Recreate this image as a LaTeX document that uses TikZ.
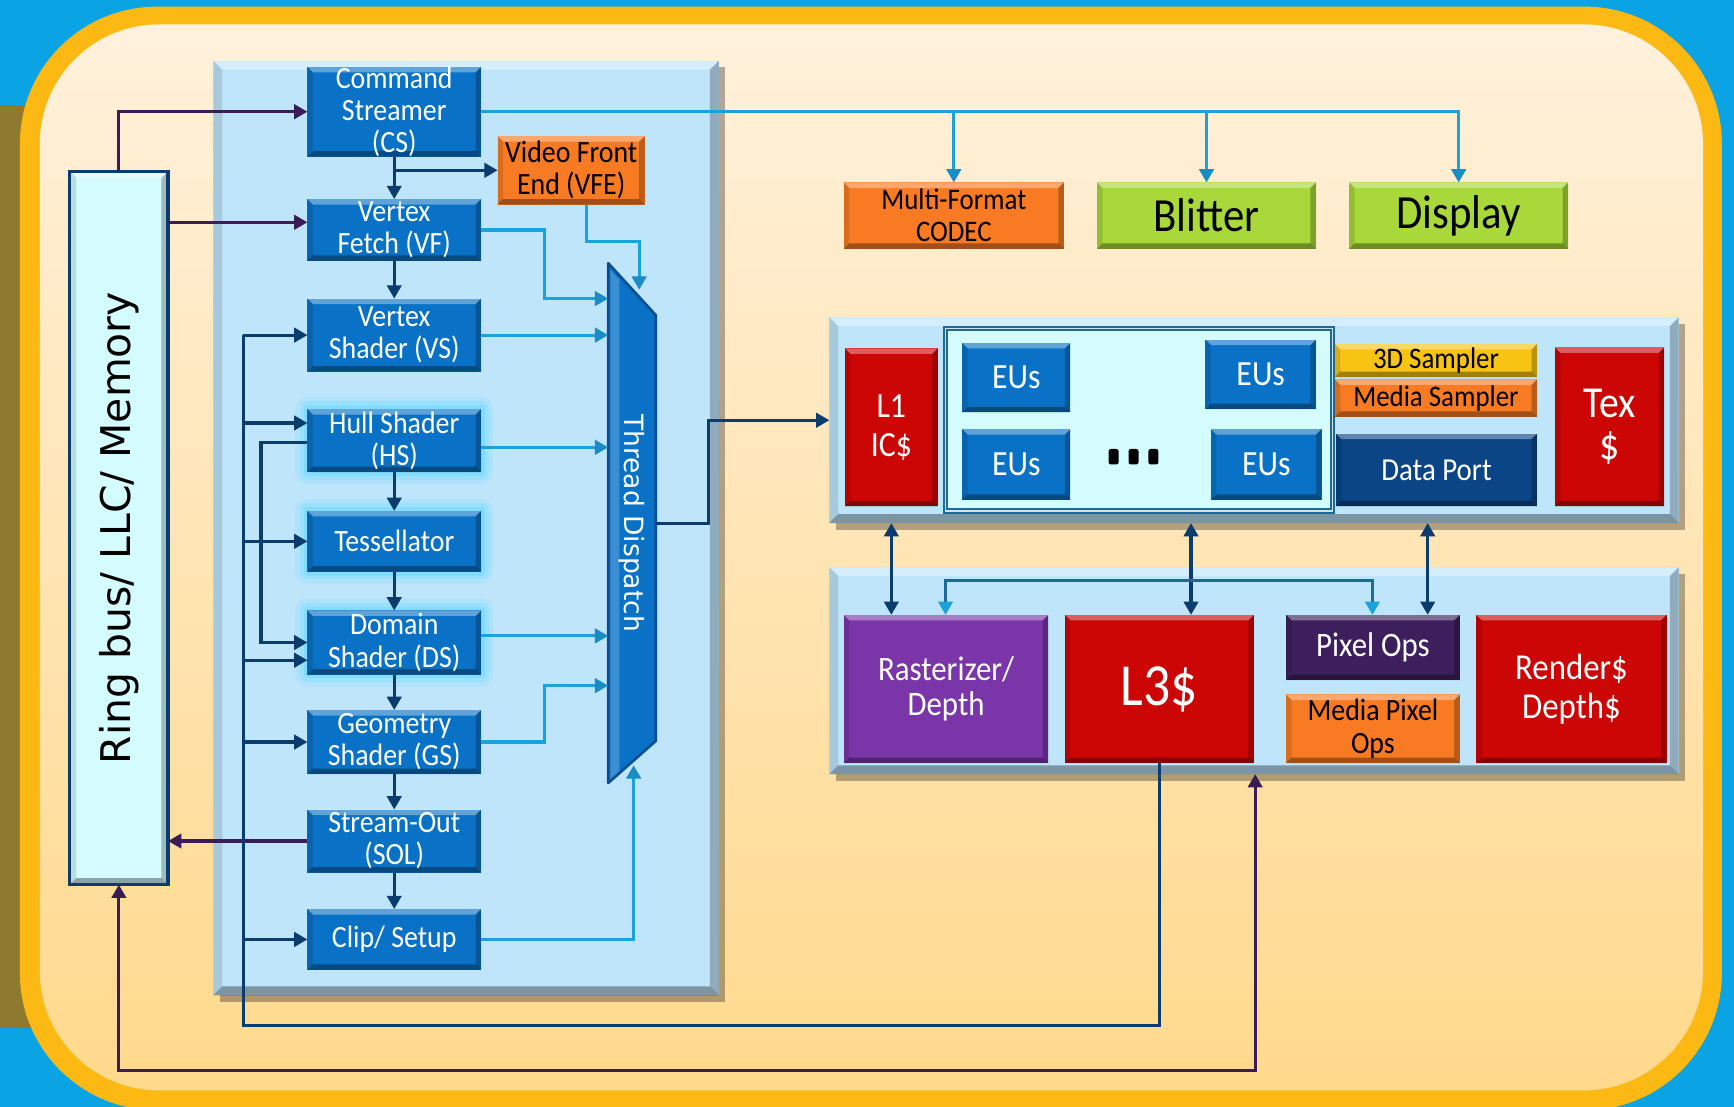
\documentclass[tikz,border=0pt]{standalone}
\usepackage{graphicx}
\usepackage{fontspec}
\setmainfont{Carlito}[FakeStretch=0.9]
\newfontfamily\dvfont{DejaVu Sans}
\usetikzlibrary{arrows.meta,shadows,calc}

\definecolor{outerblue}{HTML}{0AA3E4}
\definecolor{frameY}{HTML}{FDB913}
\definecolor{creamT}{HTML}{FFF1DC}
\definecolor{creamB}{HTML}{FFD98C}
\definecolor{panelC}{HTML}{BFE5FB}
\definecolor{boxB}{HTML}{0A72C6}
\definecolor{redC}{HTML}{CC0505}
\definecolor{orangeC}{HTML}{F87A22}
\definecolor{greenC}{HTML}{A8D83A}
\definecolor{goldC}{HTML}{F8C414}
\definecolor{purpC}{HTML}{7A36A8}
\definecolor{dpurpC}{HTML}{3C1F5C}
\definecolor{dportC}{HTML}{0B4585}
\definecolor{cyanL}{HTML}{D4FCFF}
\definecolor{navyL}{HTML}{0B3C6E}
\definecolor{purpL}{HTML}{3A1C56}
\definecolor{lbL}{HTML}{1BA1DB}
\definecolor{lbH}{HTML}{1A8CC4}
\definecolor{glowC}{HTML}{5FD8FF}
\definecolor{tealE}{HTML}{1E6A96}
\definecolor{oliveC}{HTML}{8E7A2E}
\definecolor{tdEdge}{HTML}{0A4F96}

\newcommand\fS{\fontsize{14}{14.5}\selectfont}
\newcommand\fSm{\fontsize{13.5}{14.5}\selectfont}
\newcommand\fM{\fontsize{16}{17.5}\selectfont}
\newcommand\fL{\fontsize{21.5}{23}\selectfont}
\newcommand\fT{\fontsize{20}{19}\selectfont}
\newcommand\fX{\fontsize{27}{28}\selectfont}

\newcommand\mybox[7]{\node[#6, minimum width={(#4-#2)*0.5pt}, minimum height={(#5-#3)*0.5pt}] (#1) at ({(#2+#4)/2},{(#3+#5)/2}) {#7};}

\tikzset{
 bevel/.style={path picture={
  \fill[white,opacity=.35] (path picture bounding box.north west) -- (path picture bounding box.north east) -- ([shift={(-#1,-#1)}]path picture bounding box.north east) -- ([shift={(#1,-#1)}]path picture bounding box.north west) -- cycle;
  \fill[black,opacity=.35] (path picture bounding box.south west) -- (path picture bounding box.south east) -- ([shift={(-#1,#1)}]path picture bounding box.south east) -- ([shift={(#1,#1)}]path picture bounding box.south west) -- cycle;
  \fill[black,opacity=.12] (path picture bounding box.north west) -- ([shift={(#1,-#1)}]path picture bounding box.north west) -- ([shift={(#1,#1)}]path picture bounding box.south west) -- (path picture bounding box.south west) -- cycle;
  \fill[black,opacity=.25] (path picture bounding box.north east) -- ([shift={(-#1,-#1)}]path picture bounding box.north east) -- ([shift={(-#1,#1)}]path picture bounding box.south east) -- (path picture bounding box.south east) -- cycle;
 }},
 blk/.style={fill=#1, bevel=2.5pt, inner sep=0pt, outer sep=0pt, align=center, text=white},
 glowing/.style={preaction={draw=glowC, line width=11pt, opacity=.15, line join=round},
                 preaction={draw=glowC, line width=7pt, opacity=.25, line join=round},
                 preaction={draw=glowC, line width=3.5pt, opacity=.4, line join=round}},
 panel/.style={fill=panelC, bevel=4pt, inner sep=0pt, outer sep=0pt,
               drop shadow={shadow xshift=3pt, shadow yshift=-3pt, opacity=.3, fill=black}},
 ringbox/.style={fill=cyanL, draw=navyL, line width=1.5pt, bevel=3pt, inner sep=0pt, outer sep=0pt,
               text=black, font=\dvfont\fontsize{18.5}{20}\selectfont},
 euframe/.style={fill=cyanL, draw=tealE, line width=2.5pt, inner sep=0pt, outer sep=0pt,
               postaction={draw=white, line width=0.8pt, opacity=.8}},
 >={Triangle[length=6pt,width=6.5pt]},
 nvl/.style={draw=navyL, line width=1.4pt},
 pul/.style={draw=purpL, line width=1.4pt},
 lbl/.style={draw=lbL, line width=1.4pt, >={Triangle[length=6pt,width=6.5pt,color=lbH]}},
}

\begin{document}
\begin{tikzpicture}[x=0.5pt,y=-0.5pt]
\useasboundingbox (0,0) rectangle (1568,1001);
% background
\fill[outerblue] (0,0) rectangle (1568,1001);
\fill[oliveC] (0,95) rectangle (30,930);
\fill[frameY, rounded corners=62pt] (18,6) rectangle (1557,1004);
\shade[top color=creamT, bottom color=creamB, rounded corners=54pt] (36,22) rectangle (1540,986);

% pipeline panel
\mybox{PP}{193}{55}{650}{900}{panel}{}

% ring bus
\mybox{RB}{63}{155}{152}{800}{ringbox}{\rotatebox{90}{Ring bus/ LLC/ Memory}}

% pipeline stages
\mybox{CS}{278}{66}{435}{136}{blk=boxB,font=\fS}{Command\\Streamer\\(CS)}
\mybox{VF}{278}{180}{435}{236}{blk=boxB,font=\fS}{Vertex\\Fetch (VF)}
\mybox{VS}{278}{270}{435}{336}{blk=boxB,font=\fS}{Vertex\\Shader (VS)}
\mybox{HS}{278}{370}{435}{427}{blk=boxB,glowing,font=\fS}{Hull Shader\\(HS)}
\mybox{Tess}{278}{462}{435}{517}{blk=boxB,glowing,font=\fS}{Tessellator}
\mybox{DS}{278}{552}{435}{610}{blk=boxB,glowing,font=\fS}{Domain\\Shader (DS)}
\mybox{GS}{278}{642}{435}{700}{blk=boxB,font=\fS}{Geometry\\Shader (GS)}
\mybox{SOL}{278}{732}{435}{789}{blk=boxB,font=\fS}{Stream-Out\\(SOL)}
\mybox{Clip}{278}{822}{435}{877}{blk=boxB,font=\fS}{Clip/ Setup}
\mybox{VFE}{450}{123}{583}{185}{blk=orangeC,text=black,font=\fS}{Video Front\\End (VFE)}

% thread dispatch
\fill[boxB] (550,238) -- (593,285) -- (593,670) -- (550,708) -- cycle;
\fill[white,opacity=.2] (552,244) -- (560,253) -- (560,700) -- (552,705) -- cycle;
\draw[tdEdge, line width=1.2pt, line join=round] (550,238) -- (593,285) -- (593,670) -- (550,708) -- cycle;
\node[inner sep=0pt, outer sep=0pt, minimum width=21.5pt, minimum height=235pt, text=white,
      font=\dvfont\fontsize{12}{13}\selectfont] (TD) at (571.5,473) {\rotatebox{-90}{Thread Dispatch}};
\coordinate (tdtop) at (578,262);
\coordinate (tdbot) at (573,692);

% top units
\mybox{MFC}{763}{165}{962}{225}{blk=orangeC,text=black,font=\fSm}{Multi-Format\\CODEC}
\mybox{Blit}{992}{165}{1190}{225}{blk=greenC,text=black,font=\fL}{Blitter}
\mybox{Disp}{1220}{165}{1418}{225}{blk=greenC,text=black,font=\fL}{Display}

% execution panel
\mybox{EX}{750}{287}{1518}{473}{panel}{}
\mybox{L1}{764}{315}{848}{458}{blk=redC,font=\fM}{L1\\IC\$}
\mybox{EUF}{855}{297}{1205}{462}{euframe}{}
\mybox{EUa}{870}{310}{968}{373}{blk=boxB,font=\fM}{EUs}
\mybox{EUb}{1090}{307}{1190}{370}{blk=boxB,font=\fM}{EUs}
\mybox{EUc}{870}{388}{968}{452}{blk=boxB,font=\fM}{EUs}
\mybox{EUd}{1095}{388}{1195}{452}{blk=boxB,font=\fM}{EUs}
\foreach \x in {1007,1025,1043} \fill[black, rounded corners=1pt] (\x-4.5,406) rectangle (\x+4.5,420);
\mybox{S3D}{1207}{311}{1390}{341}{blk=goldC,text=black,font=\fSm}{3D Sampler}
\mybox{MS}{1207}{343}{1390}{377}{blk=orangeC,text=black,font=\fSm}{Media Sampler}
\mybox{DP}{1208}{392}{1390}{458}{blk=dportC,font=\fontsize{14.5}{15}\selectfont}{Data Port}
\mybox{Tex}{1406}{314}{1505}{458}{blk=redC,font=\fT}{Tex\\\$}

% lower panel
\mybox{LP}{750}{513}{1518}{700}{panel}{}
\mybox{Rast}{763}{556}{948}{690}{blk=purpC,font=\fontsize{15.5}{16}\selectfont}{Rasterizer/\\Depth}
\mybox{L3}{963}{556}{1134}{690}{blk=redC,font=\fX}{L3\$}
\mybox{PixOps}{1163}{556}{1320}{615}{blk=dpurpC,font=\fontsize{15.5}{16}\selectfont}{Pixel Ops}
\mybox{MPO}{1163}{628}{1320}{690}{blk=orangeC,text=black,font=\fontsize{14}{14.5}\selectfont}{Media Pixel\\Ops}
\mybox{Rend}{1335}{556}{1507}{690}{blk=redC,font=\fontsize{16.5}{17.5}\selectfont}{Render\$\\Depth\$}

% ---- connectors ----
% ring bus
\coordinate (vfin) at ([yshift=3.5pt]VF.west);
\draw[pul,->] (RB.north) |- (CS.west);
\draw[pul,->] (RB.east |- vfin) -- (vfin);
\draw[pul,->] (SOL.west) -- (RB.east |- SOL.west);
\draw[pul,<->] (RB.south) -- (RB.south |- 0,968) -| (LP.south -| 1135,0);

% command streamer fan-out
\draw[lbl,->] (CS.east) -| (Disp.north);
\draw[lbl,->] (MFC.north |- CS.east) -- (MFC.north);
\draw[lbl,->] (Blit.north |- CS.east) -- (Blit.north);

% pipeline chain
\draw[nvl,->] (CS.south) -- (VF.north);
\draw[nvl,->] (CS.south |- VFE.west) -- (VFE.west);
\draw[nvl,->] (VF.south) -- (VS.north);
\draw[nvl,->] (HS.south) -- (Tess.north);
\draw[nvl,->] (Tess.south) -- (DS.north);
\draw[nvl,->] (DS.south) -- (GS.north);
\draw[nvl,->] (GS.south) -- (SOL.north);
\draw[nvl,->] (SOL.south) -- (Clip.north);

% into thread dispatch
\coordinate (hsr) at ([yshift=-3pt]HS.east);
\coordinate (dsr) at ([yshift=3pt]DS.east);
\draw[lbl,->] (VF.east) -| (492,270) -- (TD.west |- 0,270);
\draw[lbl,->] (VS.east) -- (TD.west |- VS.east);
\draw[lbl,->] (hsr) -- (TD.west |- hsr);
\draw[lbl,->] (dsr) -- (TD.west |- dsr);
\draw[lbl,->] (GS.east) -| (492,620) -- (TD.west |- 0,620);
\draw[lbl,->] (Clip.east) -| (tdbot);
\draw[lbl,->] ([xshift=7pt]VFE.south) |- (578,218) -- (tdtop);

% thread dispatch to execution
\draw[nvl,->] (TD.east) -- (641,473) |- (EX.west);

% L3 bus back into the pipeline
\coordinate (lb) at (220,927);
\coordinate (hsin) at ([yshift=8pt]HS.west);
\coordinate (dsin) at ([yshift=-8pt]DS.west);
\coordinate (hsout) at ([yshift=-0.75pt]HS.west);
\draw[nvl] (L3.south) |- (lb) -- (lb |- VS.west);
\draw[nvl,->] (lb |- VS.west) -- (VS.west);
\draw[nvl,->] (lb |- hsin) -- (hsin);
\draw[nvl,->] (lb |- Tess.west) -- (Tess.west);
\draw[nvl,->] (lb |- dsin) -- (dsin);
\draw[nvl,->] (lb |- GS.west) -- (GS.west);
\draw[nvl,->] (lb |- Clip.west) -- (Clip.west);
\draw[nvl,->] (hsout) -- (hsout -| 236,0) |- (DS.west);

% execution <-> lower panel
\draw[nvl,<->] (EX.south -| 806,0) -- (Rast.north -| 806,0);
\draw[nvl,<->] (EX.south -| 1077,0) -- (L3.north -| 1077,0);
\draw[nvl,<->] (EX.south -| 1291,0) -- (PixOps.north -| 1291,0);
\draw[draw=tealE, line width=1.4pt,
      {Triangle[length=6pt,width=6.5pt,color=lbL]}-{Triangle[length=6pt,width=6.5pt,color=lbL]}]
      (Rast.north -| 855,0) |- (1241,525) -- (PixOps.north -| 1241,0);
\end{tikzpicture}
\end{document}
